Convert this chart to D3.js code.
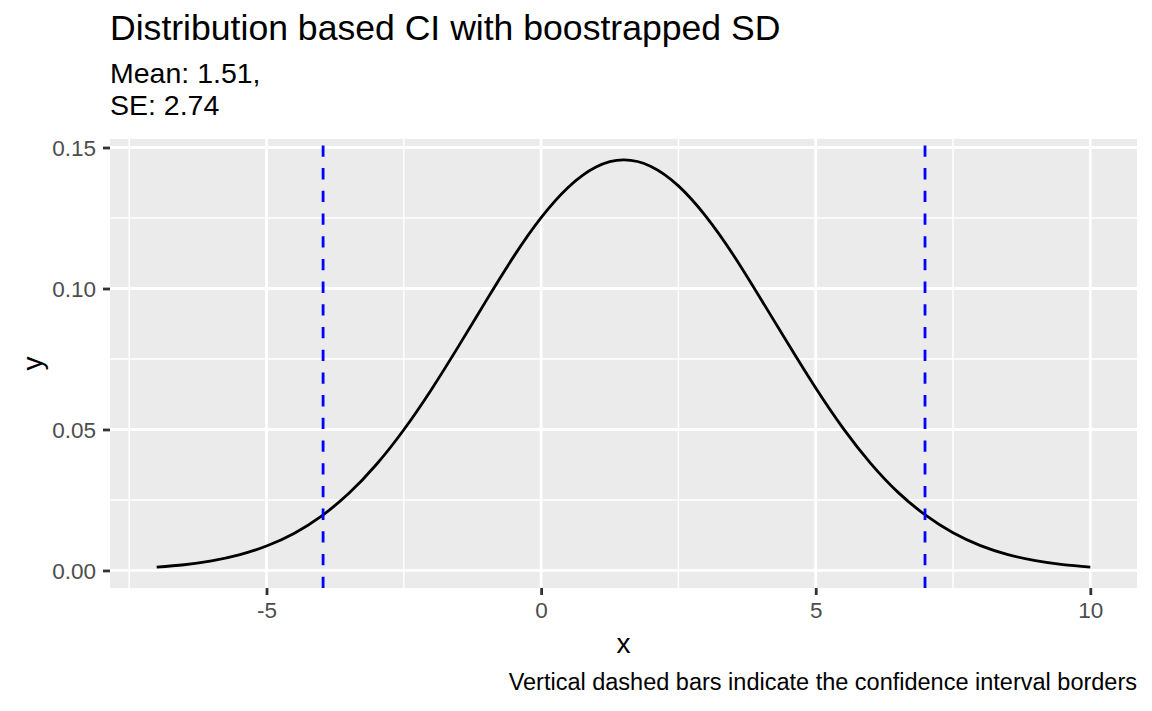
<!DOCTYPE html>
<html><head><meta charset="utf-8">
<script src="https://cdn.jsdelivr.net/npm/d3@7"></script>
<style>body{margin:0;background:#fff}text{font-family:"Liberation Sans",Arial,Helvetica,sans-serif}</style>
</head><body>
<script>
const xValues = [-7,-6.5,-6,-5.5,-5,-4.5,-4,-3.5,-3,-2.5,-2,-1.5,-1,-0.5,0,0.5,1,1.5,2,2.5,3,3.5,4,4.5,5,5.5,6,6.5,7,7.5,8,8.5,9,9.5,10];
const yValues = [0.00117,0.00203,0.00340,0.00552,0.00866,0.01313,0.01928,0.02736,0.03757,0.04990,0.06410,0.07965,0.0957,0.1113,0.1251,0.1360,0.1431,0.1456,0.1433,0.1364,0.1256,0.1119,0.0963,0.0803,0.0647,0.0504,0.0380,0.0277,0.0196,0.01335,0.00881,0.00562,0.00347,0.00207,0.00120];
const ciBorders = [-3.97, 6.99];
const xTicks = [-5,0,5,10];
const xMinor = [-7.5,-2.5,2.5,7.5];
const yTicks = [0,0.05,0.10,0.15];
const yMinor = [0.025,0.075,0.125];
const titleText = "Distribution based CI with boostrapped SD";
const subtitleLines = ["Mean: 1.51,","SE: 2.74"];
const captionText = "Vertical dashed bars indicate the confidence interval borders";

const W=1152,H=711;
const L=110,R=1137,T=139,B=588;
const svg=d3.select("body").append("svg").attr("width",W).attr("height",H);
const x=d3.scaleLinear().domain([-7.85,10.85]).range([L,R]);
const y=d3.scaleLinear().domain([-0.00622,0.15302]).range([B,T]);

svg.append("rect").attr("x",L).attr("y",T).attr("width",R-L).attr("height",B-T).attr("fill","#EBEBEB");
const g=svg.append("g");
g.selectAll(".xmin").data(xMinor).join("line").attr("x1",d=>x(d)).attr("x2",d=>x(d)).attr("y1",T).attr("y2",B).attr("stroke","#fff").attr("stroke-width",1.4);
g.selectAll(".ymin").data(yMinor).join("line").attr("y1",d=>y(d)).attr("y2",d=>y(d)).attr("x1",L).attr("x2",R).attr("stroke","#fff").attr("stroke-width",1.4);
g.selectAll(".xmaj").data(xTicks).join("line").attr("x1",d=>x(d)).attr("x2",d=>x(d)).attr("y1",T).attr("y2",B).attr("stroke","#fff").attr("stroke-width",2.8);
g.selectAll(".ymaj").data(yTicks).join("line").attr("y1",d=>y(d)).attr("y2",d=>y(d)).attr("x1",L).attr("x2",R).attr("stroke","#fff").attr("stroke-width",2.8);

const pts=xValues.map((v,i)=>[v,yValues[i]]);
svg.append("path").datum(pts).attr("fill","none").attr("stroke","#000").attr("stroke-width",2.8)
  .attr("d",d3.line().x(d=>x(d[0])).y(d=>y(d[1])).curve(d3.curveNatural));

svg.selectAll(".ci").data(ciBorders).join("line").attr("x1",d=>x(d)).attr("x2",d=>x(d)).attr("y1",B).attr("y2",T)
  .attr("stroke","#0000FF").attr("stroke-width",2.8).attr("stroke-dasharray","11.3,11.4");

// axes
const xa=svg.append("g").attr("transform",`translate(0,${B})`).call(d3.axisBottom(x).tickValues(xTicks).tickSize(7).tickPadding(4).tickFormat(d=>String(d)));
const ya=svg.append("g").attr("transform",`translate(${L},0)`).call(d3.axisLeft(y).tickValues(yTicks).tickSize(7).tickPadding(4).tickFormat(d3.format(".2f")));
[xa,ya].forEach(a=>{a.select(".domain").remove();a.selectAll("line").attr("stroke","#333").attr("stroke-width",2.8);
  a.selectAll("text").attr("fill","#4D4D4D").attr("font-size","22.5px").attr("font-family",'"Liberation Sans",Arial,sans-serif');});
xa.selectAll("text").attr("dy",null).attr("y",30);
ya.selectAll("text").attr("dy","0.36em").attr("x",-14);

svg.append("text").attr("x",x(1.5)).attr("y",653).attr("text-anchor","middle").attr("font-size","28px").text("x");
svg.append("text").attr("transform","translate(42,"+((T+B)/2)+") rotate(-90)").attr("text-anchor","middle").attr("font-size","28px").text("y");
svg.append("text").attr("x",L).attr("y",40).attr("font-size","35.6px").text(titleText);
svg.selectAll(".sub").data(subtitleLines).join("text").attr("x",L).attr("y",(d,i)=>83+i*32).attr("font-size","28.5px").text(d=>d);
svg.append("text").attr("x",R).attr("y",690).attr("text-anchor","end").attr("font-size","23.5px").text(captionText);
</script>
</body></html>
